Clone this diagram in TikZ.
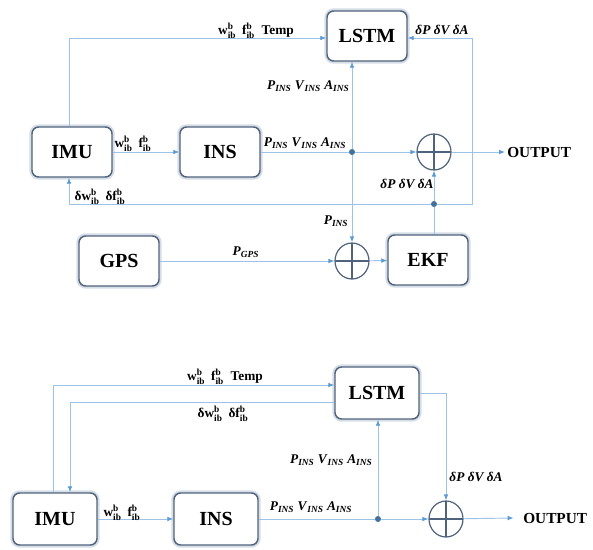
\documentclass[tikz,border=0pt]{standalone}
\usepackage{fontspec}
\setmainfont{Liberation Serif}
\usepackage{amsmath}
\usetikzlibrary{arrows.meta,positioning,calc,shapes.geometric}
\definecolor{BoxEdge}{HTML}{50637C}
\definecolor{BoxGlow}{HTML}{D5DDE7}
\definecolor{WireBlue}{HTML}{9DC3E6}
\definecolor{TipBlue}{HTML}{5B9BD5}
\definecolor{DotBlue}{HTML}{41719C}
\newcommand{\wib}{$\mathbf{w}^{\mathbf{b}}_{\mathbf{ib}}$}
\newcommand{\fib}{$\mathbf{f}^{\mathbf{b}}_{\mathbf{ib}}$}
\newcommand{\insq}[1]{\textit{#1}\textsubscript{\textit{INS}}}
\newcommand{\pva}{\insq{P} \insq{V} \insq{A}}

\begin{document}
\begin{tikzpicture}[x=0.75pt,y=-0.75pt,
			box/.style={draw=BoxEdge,line width=1.1pt,rounded corners=5pt,fill=white,preaction={draw=BoxGlow,line width=4pt},minimum width=60pt,minimum height=37.5pt,font=\bfseries\fontsize{15}{16}\selectfont},
			sum/.style={ellipse,draw=BoxEdge,line width=0.9pt,minimum width=25.5pt,minimum height=27pt,inner sep=0pt,
				path picture={\draw[BoxEdge,line width=0.9pt] (path picture bounding box.north)--(path picture bounding box.south) (path picture bounding box.west)--(path picture bounding box.east);}},
			wire/.style={draw=WireBlue,line width=0.7pt},
			arr/.style={wire,-{Latex[length=4.5pt,width=3.5pt,color=TipBlue]}},
			dot/.style={circle,fill=DotBlue,inner sep=0pt,minimum size=4.5pt},
			lbl/.style={font=\bfseries\fontsize{10}{11}\selectfont,inner sep=1pt},
			outlbl/.style={font=\bfseries\fontsize{11.5}{12}\selectfont,inner sep=0pt,anchor=west}
		]
		\useasboundingbox (0,0) rectangle (593,550);
		% upper scheme
		\node[box] (lstmA) at (367,36) {LSTM};
		\node[box] (imuA) at (72,152) {IMU};
		\node[box] (insA) at (220,152) {INS};
		\node[sum] (sumA) at (434,152) {};
		\node[outlbl] (outA) at (507,152) {OUTPUT};
		\node[box] (gpsA) at (119,261) {GPS};
		\node[sum] (sumB) at (352,261) {};
		\node[box] (ekfA) at (428,260) {EKF};
		\node[dot] (jA) at (352,152) {};
		\node[dot] (jB) at (434,204) {};
		\coordinate (cA) at (69,38);
		\coordinate (cB) at (472,204);
		\draw[arr] (imuA)--(insA);
		\draw[wire] (insA)--(jA);
		\draw[arr] (jA)--(sumA);
		\draw[arr] (sumA)--([xshift=-1.5pt]outA.west);
		\draw[arr] (jA)--(jA |- lstmA.south);
		\draw[arr] (jA)--(sumB);
		\draw[arr] (imuA.north -| cA)--(cA)--(cA -| lstmA.west);
		\draw[arr] (jB)--(cB)--(cB |- cA)--(cA -| lstmA.east);
		\draw[arr] (jB)--(jB -| cA)--(imuA.south -| cA);
		\draw[wire] (ekfA.north -| jB)--(jB);
		\draw[arr] (jB)--(sumA);
		\draw[arr] (gpsA)--(sumB);
		\draw[arr] (sumB)--(ekfA);
		\node[lbl] (inA) at (256,31) {\wib\;\,\fib\ \ Temp};
		\node[lbl] (errA) at (442,30) {\textit{δP δV δA}};
		\node[lbl,anchor=east] (pvaA) at (351,86) {\pva};
		\node[lbl] (rawA) at (133,144) {\wib\;\,\fib};
		\node[lbl] (navA) at (305,143) {\pva};
		\node[lbl] (corrA) at (100,197) {δ\wib\;\,δ\fib};
		\node[lbl] (errB) at (407,184) {\textit{δP δV δA}};
		\node[lbl] (pinsA) at (336,221) {\insq{P}};
		\node[lbl] (pgpsA) at (246,252) {\textit{P}\textsubscript{\textit{GPS}}};
		% lower scheme
		\node[box,minimum width=63pt,minimum height=39pt] (lstmB) at (377,393) {LSTM};
		\node[box,minimum width=63pt,minimum height=39pt] (imuB) at (55,519) {IMU};
		\node[box,minimum width=63pt,minimum height=39pt] (insB) at (216,519) {INS};
		\node[sum] (sumC) at (446,519) {};
		\node[outlbl] (outB) at (523,518) {OUTPUT};
		\node[dot] (jC) at (378,519) {};
		\coordinate (cC) at (53,385);
		\coordinate (cD) at (70,402);
		\draw[arr] (imuB.north -| cC)--(cC)--(cC -| lstmB.west);
		\draw[arr] (cD -| lstmB.west)--(cD)--(imuB.north -| cD);
		\draw[arr] (lstmB.east) -| (sumC.north);
		\draw[arr] (imuB)--(insB);
		\draw[wire] (insB)--(jC);
		\draw[arr] (jC)--(sumC);
		\draw[arr] (jC)--(jC |- lstmB.south);
		\draw[arr] (sumC)--([xshift=-7pt]outB.west);
		\node[lbl] (inB) at (225,377) {\wib\;\,\fib\ \ Temp};
		\node[lbl] (corrB) at (223,414) {δ\wib\;\,δ\fib};
		\node[lbl,anchor=east] (pvaB) at (374,460) {\pva};
		\node[lbl] (errC) at (476,477) {\textit{δP δV δA}};
		\node[lbl] (rawB) at (122,513) {\wib\;\,\fib};
		\node[lbl] (navB) at (311,507) {\pva};
	\end{tikzpicture}
\end{document}
